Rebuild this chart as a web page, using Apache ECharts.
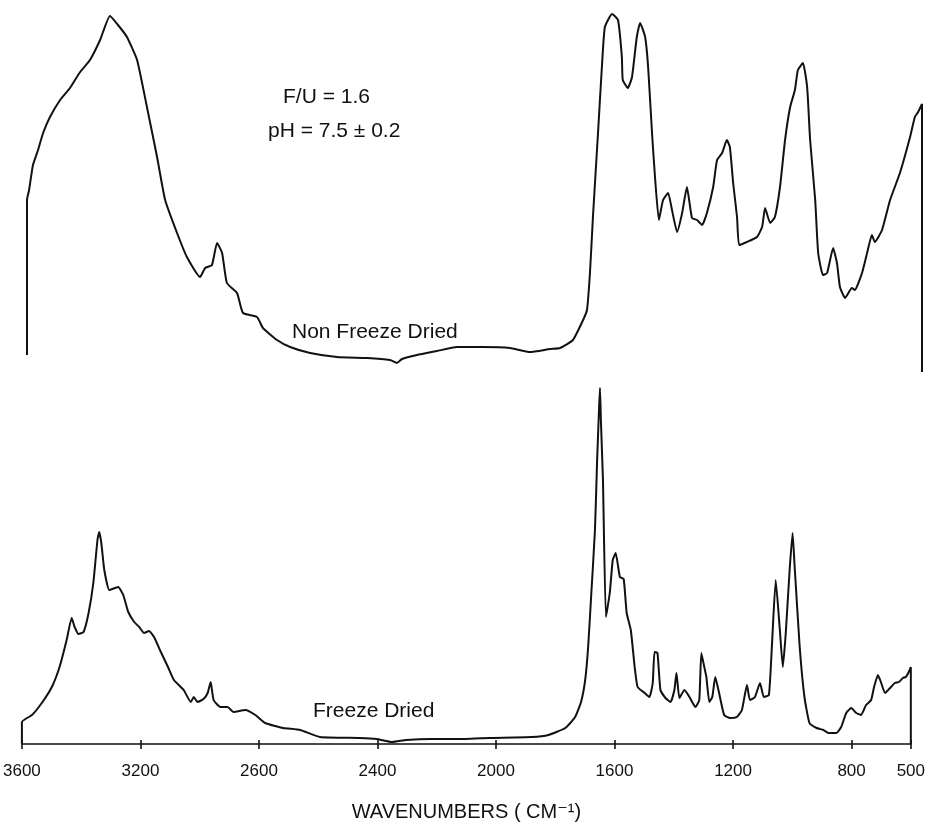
<!DOCTYPE html>
<html>
<head>
<meta charset="utf-8">
<script src="https://cdn.jsdelivr.net/npm/echarts@6/dist/echarts.min.js"></script>
<style>
  html, body { margin: 0; padding: 0; background: #fff; }
  #chart { width: 928px; height: 823px; }
</style>
</head>
<body>
<div id="chart"></div>
<script>
// IR spectra, F/U = 1.6 resin; x in cm-1, y in arbitrary absorbance units
const nfdWavenumber = [3600, 3600, 3593, 3580, 3563, 3546, 3523, 3489, 3456, 3422, 3389, 3355, 3322, 3295, 3265, 3231, 3198, 3164, 3137, 3097,
  3064, 3020, 3003, 2980, 2963, 2946, 2930, 2896, 2876, 2829, 2809, 2762, 2718, 2651, 2561, 2460, 2383, 2360, 2343, 2293,
  2226, 2159, 2071, 1981, 1914, 1847, 1813, 1770, 1736, 1723, 1713, 1703, 1686, 1673, 1663, 1639, 1619, 1606, 1603, 1586,
  1572, 1556, 1545, 1528, 1518, 1505, 1495, 1482, 1468, 1451, 1438, 1421, 1404, 1388, 1371, 1354, 1337, 1321, 1300, 1287,
  1270, 1254, 1244, 1233, 1220, 1213, 1187, 1153, 1136, 1126, 1109, 1093, 1076, 1059, 1042, 1026, 1016, 999, 985, 975,
  958, 948, 932, 918, 898, 885, 875, 858, 835, 825, 801, 784, 768, 758, 734, 707, 674, 640, 624, 613, 600, 600];
const nfdSignal = [17, 172, 182, 207, 222, 239, 255, 272, 284, 300, 312, 332, 356, 347, 335, 312, 265, 215, 172, 139,
  115, 95, 104, 107, 129, 119, 89, 79, 59, 55, 44, 32, 25, 19, 15, 14, 12, 9, 13, 17,
  21, 25, 25, 24, 20, 23, 24, 32, 52, 62, 99, 155, 239, 305, 345, 358, 352, 315, 292, 284,
  295, 335, 349, 335, 305, 239, 195, 152, 172, 179, 162, 140, 159, 185, 154, 152, 147, 159, 185, 212,
  219, 232, 225, 189, 155, 127, 130, 135, 145, 164, 149, 155, 185, 232, 265, 282, 302, 309, 285, 232,
  172, 119, 97, 99, 124, 109, 85, 74, 84, 82, 99, 119, 137, 130, 142, 172, 199, 235, 255, 260, 268, 0];

const fdWavenumber = [3600, 3600, 3566, 3533, 3499, 3473, 3449, 3432, 3422, 3409, 3392, 3375, 3359, 3345, 3339, 3332, 3322, 3305, 3275, 3258,
  3241, 3221, 3204, 3188, 3171, 3154, 3131, 3107, 3087, 3054, 3030, 3020, 3007, 2987, 2973, 2963, 2953, 2930, 2906, 2886,
  2846, 2812, 2779, 2718, 2661, 2594, 2460, 2403, 2350, 2303, 2216, 2102, 2025, 1880, 1823, 1766, 1733, 1713, 1699, 1689,
  1679, 1666, 1659, 1652, 1649, 1646, 1639, 1629, 1616, 1606, 1596, 1582, 1569, 1559, 1545, 1532, 1522, 1498, 1482, 1471,
  1465, 1455, 1445, 1428, 1411, 1398, 1391, 1381, 1364, 1347, 1327, 1314, 1307, 1297, 1290, 1280, 1270, 1260, 1247, 1230,
  1210, 1187, 1170, 1153, 1143, 1126, 1109, 1096, 1079, 1069, 1056, 1042, 1032, 1022, 1009, 999, 992, 975, 959, 942,
  918, 895, 878, 851, 835, 818, 801, 784, 768, 751, 734, 724, 711, 701, 687, 667, 654, 640, 627, 617, 607, 600, 600];
const fdSignal = [0, 22, 29, 41, 57, 77, 104, 126, 117, 110, 112, 131, 161, 204, 212, 201, 174, 154, 157, 149,
  132, 122, 117, 111, 113, 107, 92, 77, 64, 54, 42, 47, 42, 45, 51, 62, 44, 37, 37, 32,
  34, 29, 21, 16, 14, 7, 6, 5, 2, 4, 5, 5, 6, 7, 9, 16, 27, 42, 64, 97,
  147, 214, 281, 337, 356, 324, 264, 127, 151, 184, 191, 167, 165, 131, 114, 77, 57, 51, 47, 61,
  92, 91, 54, 46, 42, 54, 71, 46, 54, 47, 37, 44, 91, 77, 67, 42, 47, 67, 51, 29,
  26, 27, 34, 59, 44, 47, 61, 47, 49, 97, 164, 114, 77, 111, 174, 211, 177, 97, 47, 21,
  16, 14, 11, 11, 17, 31, 36, 31, 29, 39, 44, 57, 69, 62, 51, 57, 61, 62, 66, 67, 72, 77, 0];

const tickValues = [3600, 3200, 2800, 2400, 2000, 1600, 1200, 800, 600];
const tickLabels = ['3600', '3200', '2600', '2400', '2000', '1600', '1200', '800', '500'];

const zip = (xs, ys) => xs.map((x, i) => [x, ys[i]]);

const font = '"Liberation Sans", Arial, "DejaVu Sans", sans-serif';
const ink = '#111';

const myChart = echarts.init(document.getElementById('chart'), null, { renderer: 'canvas' });

myChart.setOption({
  animation: false,
  backgroundColor: '#fff',
  grid: [
    { left: 27, right: 6, top: 10, bottom: 451 },
    { left: 20, right: 13, top: 385, bottom: 79 }
  ],
  xAxis: [
    { gridIndex: 0, type: 'value', min: 600, max: 3600, inverse: true, show: false },
    {
      gridIndex: 1,
      type: 'value',
      min: 600,
      max: 3600,
      inverse: true,
      name: 'WAVENUMBERS ( CM\u207B\u00B9)',
      nameLocation: 'middle',
      nameGap: 58,
      nameTextStyle: { fontFamily: font, fontSize: 20, color: ink },
      axisLine: { lineStyle: { color: ink, width: 1.6 } },
      axisTick: { customValues: tickValues, length: 5, lineStyle: { color: ink, width: 1.6 } },
      axisLabel: {
        customValues: tickValues,
        formatter: v => tickLabels[tickValues.indexOf(v)],
        fontFamily: font,
        fontSize: 17,
        color: ink,
        margin: 19
      },
      splitLine: { show: false }
    },
    {
      // inner half of the tick marks
      gridIndex: 1,
      type: 'value',
      min: 600,
      max: 3600,
      inverse: true,
      position: 'bottom',
      axisLine: { show: false },
      axisLabel: { show: false },
      axisTick: { inside: true, customValues: tickValues, length: 4, lineStyle: { color: ink, width: 1.6 } },
      splitLine: { show: false }
    }
  ],
  yAxis: [
    { gridIndex: 0, type: 'value', min: 0, max: 362, show: false },
    { gridIndex: 1, type: 'value', min: 0, max: 359, show: false }
  ],
  series: [
    {
      name: 'Non Freeze Dried',
      type: 'line',
      xAxisIndex: 0,
      yAxisIndex: 0,
      data: zip(nfdWavenumber, nfdSignal),
      showSymbol: false,
      smooth: 0.15,
      lineStyle: { color: ink, width: 2 }
    },
    {
      name: 'Freeze Dried',
      type: 'line',
      xAxisIndex: 1,
      yAxisIndex: 1,
      data: zip(fdWavenumber, fdSignal),
      showSymbol: false,
      smooth: 0.15,
      lineStyle: { color: ink, width: 2 }
    }
  ],
  graphic: [
    { type: 'text', left: 283, top: 87, style: { text: 'F/U = 1.6', fontFamily: font, fontSize: 21, fill: ink } },
    { type: 'text', left: 268, top: 121, style: { text: 'pH = 7.5 \u00B1 0.2', fontFamily: font, fontSize: 21, fill: ink } },
    { type: 'text', left: 292, top: 322, style: { text: 'Non Freeze Dried', fontFamily: font, fontSize: 21, fill: ink } },
    { type: 'text', left: 313, top: 701, style: { text: 'Freeze Dried', fontFamily: font, fontSize: 21, fill: ink } }
  ]
});
</script>
</body>
</html>
